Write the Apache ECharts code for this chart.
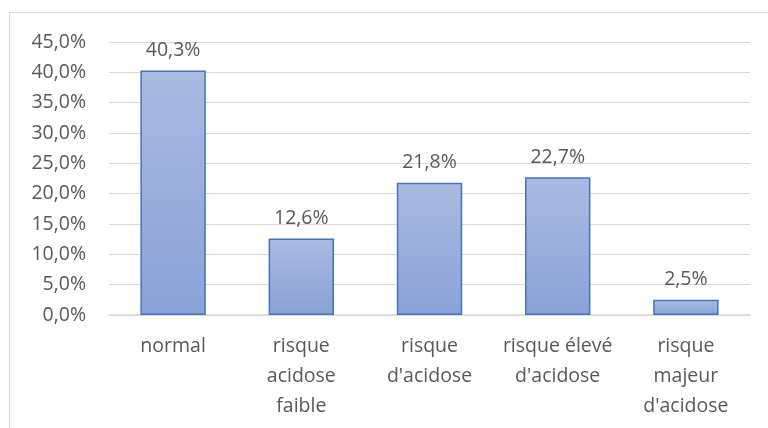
<!DOCTYPE html>
<html><head><meta charset="utf-8">
<script src="https://cdn.jsdelivr.net/npm/echarts@6/dist/echarts.min.js"></script>
<style>html,body{margin:0;padding:0;background:#fff}#c{width:768px;height:428px}</style>
</head><body><div id="c"></div>
<script>
const categories = ["normal", "risque\nacidose\nfaible", "risque\nd'acidose", "risque élevé\nd'acidose", "risque\nmajeur\nd'acidose"];
const values = [40.3, 12.6, 21.8, 22.7, 2.5];
const fmt = v => v.toFixed(1).replace('.', ',') + '%';
const chart = echarts.init(document.getElementById('c'));
const FONT = '"Open Sans", "Liberation Sans", sans-serif';
chart.setOption({
  animation: false,
  textStyle: { fontFamily: FONT },
  graphic: [{ type: 'rect', shape: { x: 9.5, y: 12.5, width: 780, height: 430 }, style: { fill: 'none', stroke: '#d9d9d9', lineWidth: 1 } }],
  grid: { left: 109, right: 18, top: 42, bottom: 113 },
  xAxis: {
    type: 'category', data: categories,
    axisLine: { lineStyle: { color: '#d9d9d9', width: 1.5 } },
    axisTick: { show: false },
    axisLabel: { color: '#595959', fontSize: 19.5, lineHeight: 30, margin: 16, interval: 0, fontFamily: FONT }
  },
  yAxis: {
    type: 'value', min: 0, max: 45, interval: 5,
    axisLine: { show: false }, axisTick: { show: false },
    splitLine: { lineStyle: { color: '#d9d9d9', width: 1 } },
    axisLabel: { color: '#595959', fontSize: 19.5, margin: 23, formatter: v => fmt(v), fontFamily: FONT }
  },
  series: [{
    type: 'bar', data: values, barWidth: '51%',
    itemStyle: {
      color: new echarts.graphic.LinearGradient(0, 0, 0, 1, [{ offset: 0, color: '#abbae1' }, { offset: 1, color: '#8aa2d8' }]),
      borderColor: '#4472c4', borderWidth: 1.5
    },
    label: { show: true, position: 'top', distance: 10, color: '#595959', fontSize: 19.5, formatter: p => fmt(p.value), fontFamily: FONT }
  }]
});
</script></body></html>
